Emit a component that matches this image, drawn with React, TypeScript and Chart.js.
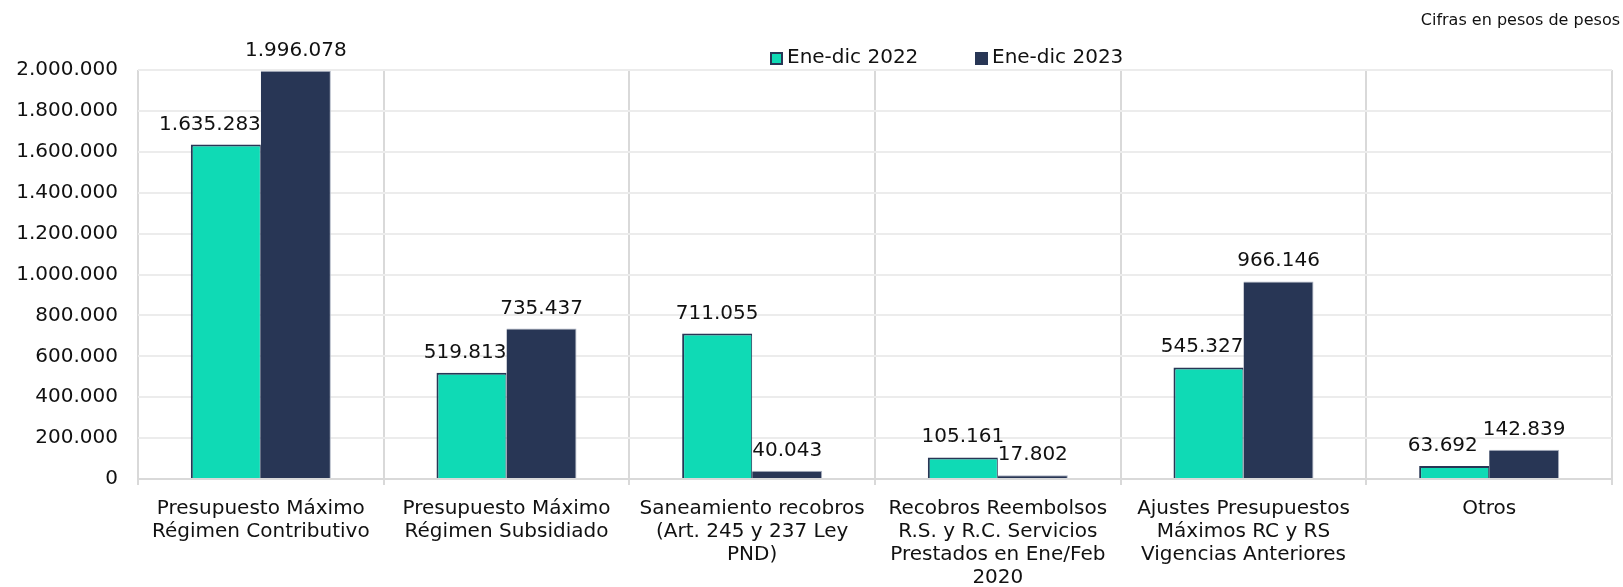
import React, { useEffect, useRef } from "react";
import { Chart, registerables } from "chart.js";

Chart.register(...registerables);

const categories: string[][] = [
  ["Presupuesto Máximo", "Régimen Contributivo"],
  ["Presupuesto Máximo", "Régimen Subsidiado"],
  ["Saneamiento recobros", "(Art. 245 y 237 Ley", "PND)"],
  ["Recobros Reembolsos", "R.S. y R.C. Servicios", "Prestados en Ene/Feb", "2020"],
  ["Ajustes Presupuestos", "Máximos RC y RS", "Vigencias Anteriores"],
  ["Otros"],
];
const series2022: number[] = [1635283, 519813, 711055, 105161, 545327, 63692];
const series2023: number[] = [1996078, 735437, 40043, 17802, 966146, 142839];
const seriesNames: string[] = ["Ene-dic 2022", "Ene-dic 2023"];
const noteText = "Cifras en pesos de pesos";

const W = 1623;
const H = 587;
const FONT = "'DejaVu Sans', Verdana, sans-serif";
const TEAL = "#0fdab5";
const NAVY = "#283655";

const fmt = (n: number) =>
  Math.round(n).toString().replace(/\B(?=(\d{3})+(?!\d))/g, ".");

const overlayPlugin = {
  id: "overlay",
  afterDatasetsDraw(chart: any) {
    const ctx = chart.ctx;
    ctx.save();
    ctx.font = `20px ${FONT}`;
    ctx.fillStyle = "#111";
    ctx.textBaseline = "alphabetic";
    ctx.textAlign = "center";
    const m0 = chart.getDatasetMeta(0);
    const m1 = chart.getDatasetMeta(1);
    const d0 = chart.data.datasets[0].data;
    const d1 = chart.data.datasets[1].data;
    m0.data.forEach((bar0: any, i: number) => {
      const bar1 = m1.data[i];
      const t0 = fmt(d0[i]);
      const t1 = fmt(d1[i]);
      const w0 = ctx.measureText(t0).width;
      const w1 = ctx.measureText(t1).width;
      const y0 = bar0.y - 15;
      const y1 = bar1.y - 15;
      let x0 = bar0.x;
      const x1 = bar1.x;
      const half = bar0.width / 2;
      // avoid running into a taller neighbouring bar
      if (bar1.y < y0 - 10 && x0 + w0 / 2 > bar0.x + half) {
        x0 = bar0.x + half - w0 / 2;
      }
      // avoid overlapping the neighbouring label at similar height
      if (Math.abs(y0 - y1) < 17) {
        const left1 = x1 - w1 / 2;
        const right0 = x0 + w0 / 2;
        if (right0 > left1 - 5) x0 -= right0 - (left1 - 5);
      }
      ctx.fillText(t0, x0, y0);
      ctx.fillText(t1, x1, y1);
    });
    // legend
    const items = [
      { name: seriesNames[0], fill: TEAL, stroke: NAVY, x: 770 },
      { name: seriesNames[1], fill: NAVY, stroke: NAVY, x: 975 },
    ];
    ctx.textAlign = "left";
    ctx.textBaseline = "middle";
    items.forEach((it) => {
      ctx.fillStyle = it.fill;
      ctx.fillRect(it.x, 52, 13, 13);
      ctx.strokeStyle = it.stroke;
      ctx.lineWidth = 2;
      ctx.strokeRect(it.x + 1, 53, 11, 11);
      ctx.fillStyle = "#111";
      ctx.fillText(it.name, it.x + 17, 58);
    });
    // note
    ctx.font = `16px ${FONT}`;
    ctx.textAlign = "right";
    ctx.fillText(noteText, 1620, 21);
    ctx.restore();
  },
};

export default function App() {
  const ref = useRef<HTMLCanvasElement | null>(null);
  useEffect(() => {
    document.body.style.margin = "0";
    Chart.defaults.font.family = FONT;
    Chart.defaults.color = "#111";
    const chart = new Chart(ref.current as HTMLCanvasElement, {
      type: "bar",
      data: {
        labels: categories,
        datasets: [
          {
            label: seriesNames[0],
            data: series2022,
            backgroundColor: TEAL,
            borderColor: NAVY,
            borderWidth: { top: 2, left: 2, right: 1, bottom: 0 } as any,
            barPercentage: 1,
            categoryPercentage: 0.57,
          },
          {
            label: seriesNames[1],
            data: series2023,
            backgroundColor: NAVY,
            borderColor: "#aeb5c3",
            borderWidth: { top: 1, left: 0, right: 1, bottom: 0 } as any,
            barPercentage: 1,
            categoryPercentage: 0.57,
          },
        ],
      },
      options: {
        animation: false,
        responsive: false,
        maintainAspectRatio: false,
        layout: { padding: { top: 70, right: 11, left: 0, bottom: 0 } },
        plugins: {
          legend: { display: false },
          title: { display: false },
          tooltip: { enabled: false },
        },
        scales: {
          x: {
            offset: true,
            grid: {
              offset: true,
              color: "#d9d9d9",
              lineWidth: 2,
              drawTicks: true,
              tickLength: 6,
            },
            border: { color: "#d9d9d9", width: 2 },
            ticks: {
              font: { size: 20, family: FONT, lineHeight: 1.15 },
              color: "#111",
              padding: 12,
              maxRotation: 0,
              autoSkip: false,
            },
            afterFit: (s: any) => {
              s.height = H - 479;
            },
          },
          y: {
            min: 0,
            max: 2000000,
            ticks: {
              stepSize: 200000,
              font: { size: 20, family: FONT },
              color: "#111",
              padding: 20,
              callback: (v: any) => fmt(Number(v)),
            },
            grid: { color: "#ececec", lineWidth: 2, drawTicks: false },
            border: { display: false },
            afterFit: (s: any) => {
              s.width = 138;
            },
          },
        },
      },
      plugins: [overlayPlugin],
    });
    return () => chart.destroy();
  }, []);
  return (
    <div style={{ width: W, height: H }}>
      <canvas ref={ref} width={W} height={H} style={{ width: W, height: H, display: "block" }} />
    </div>
  );
}
